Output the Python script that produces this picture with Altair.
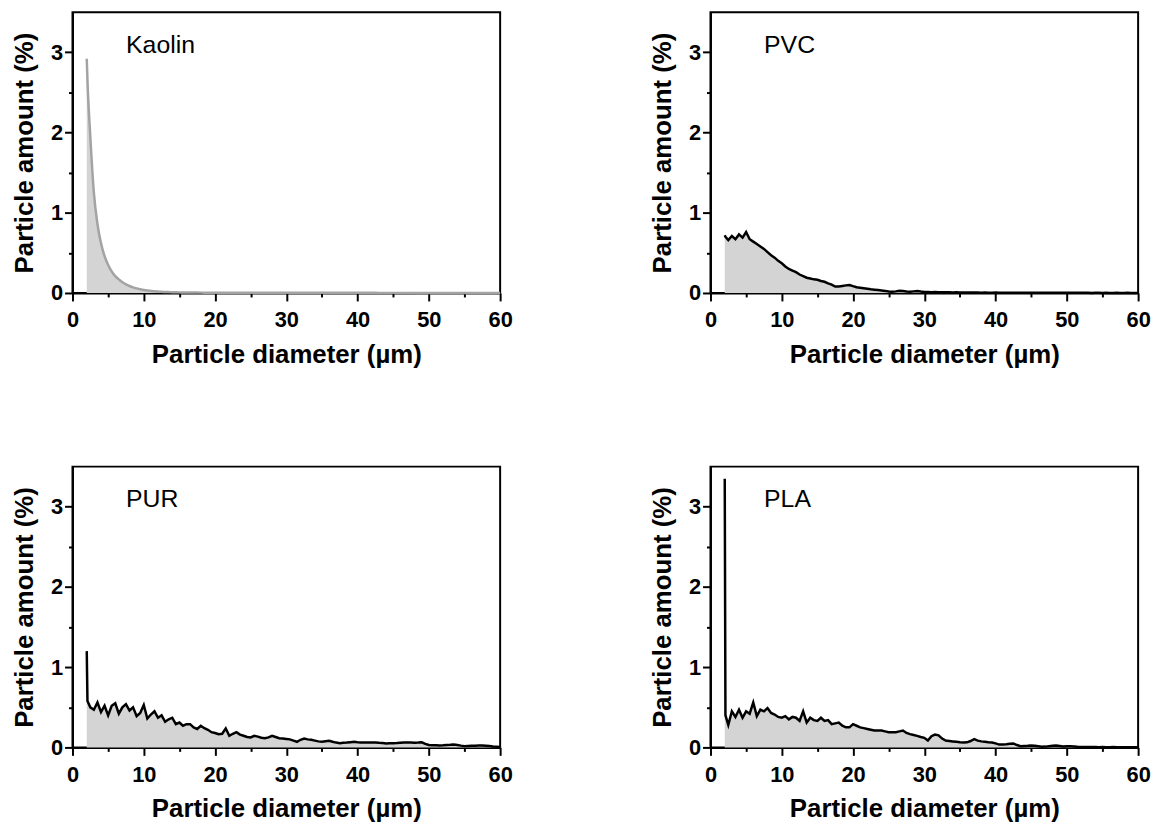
import altair as alt
import pandas as pd

# particle diameter grid (µm)
DIAMETER = [2.0, 2.1] + [round(2.5 + 0.5 * i, 1) for i in range(116)]

KAOLIN = [2.92, 2.65,
          1.95, 1.25, 0.86, 0.62, 0.46, 0.35, 0.27, 0.21, 0.17, 0.135,
          0.108, 0.087, 0.07, 0.057, 0.047, 0.038, 0.031, 0.026, 0.021, 0.018,
          0.015, 0.013, 0.011, 0.0095, 0.0085, 0.0075, 0.0068, 0.0062, 0.0057, 0.0052,
          0.0048, 0.0045, 0.0042, 0.004, 0.0038, 0.0036, 0.0034, 0.0032, 0.0031, 0.003,
          0.0029, 0.0028, 0.0028, 0.0027, 0.0026, 0.0026, 0.0025, 0.0025, 0.0024, 0.0024,
          0.0023, 0.0023, 0.0022, 0.0022, 0.0022, 0.0021, 0.0021, 0.0021, 0.002, 0.002,
          0.002, 0.0019, 0.0019, 0.0019, 0.0018, 0.0018, 0.0018, 0.0018, 0.0017, 0.0017,
          0.0017, 0.0017, 0.0016, 0.0016, 0.0016, 0.0016, 0.0015, 0.0015, 0.0015, 0.0015,
          0.0015, 0.0014, 0.0014, 0.0014, 0.0014, 0.0014, 0.0013, 0.0013, 0.0013, 0.0013,
          0.0013, 0.0013, 0.0012, 0.0012, 0.0012, 0.0012, 0.0012, 0.0012, 0.0011, 0.0011,
          0.0011, 0.0011, 0.0011, 0.0011, 0.0011, 0.001, 0.001, 0.001, 0.001, 0.001,
          0.001, 0.001, 0.001, 0.001, 0.001, 0.001]

PVC = [0.72, 0.70,
       0.66, 0.71, 0.67, 0.73, 0.69, 0.76, 0.67, 0.64, 0.61, 0.58,
       0.55, 0.51, 0.47, 0.44, 0.40, 0.37, 0.33, 0.30, 0.28, 0.26,
       0.23, 0.21, 0.19, 0.18, 0.17, 0.165, 0.15, 0.14, 0.12, 0.105,
       0.08, 0.08, 0.087, 0.095, 0.10, 0.085, 0.072, 0.065, 0.058, 0.052,
       0.046, 0.041, 0.036, 0.031, 0.026, 0.018, 0.016, 0.02, 0.028, 0.025,
       0.018, 0.015, 0.02, 0.025, 0.018, 0.013, 0.012, 0.01, 0.013, 0.01,
       0.009, 0.008, 0.009, 0.007, 0.008, 0.006, 0.006, 0.005, 0.006, 0.005,
       0.005, 0.004, 0.005, 0.004, 0.004, 0.005, 0.004, 0.004, 0.003, 0.004,
       0.003, 0.004, 0.003, 0.003, 0.004, 0.003, 0.003, 0.003, 0.002, 0.003,
       0.003, 0.002, 0.003, 0.002, 0.003, 0.002, 0.002, 0.003, 0.002, 0.002,
       0.002, 0.002, 0.001, 0.002, 0.002, 0.001, 0.002, 0.001, 0.001, 0.002,
       0.001, 0.001, 0.002, 0.001, 0.001, 0.001]

PUR = [1.2, 0.58,
       0.50, 0.47, 0.56, 0.44, 0.52, 0.40, 0.52, 0.55, 0.42, 0.50,
       0.54, 0.46, 0.50, 0.39, 0.43, 0.53, 0.36, 0.41, 0.45, 0.37,
       0.40, 0.32, 0.35, 0.37, 0.29, 0.31, 0.27, 0.29, 0.29, 0.25,
       0.23, 0.27, 0.24, 0.22, 0.19, 0.18, 0.165, 0.17, 0.235, 0.145,
       0.17, 0.19, 0.16, 0.145, 0.13, 0.125, 0.145, 0.135, 0.12, 0.115,
       0.125, 0.145, 0.13, 0.115, 0.11, 0.105, 0.10, 0.085, 0.07, 0.095,
       0.11, 0.10, 0.095, 0.085, 0.075, 0.07, 0.078, 0.082, 0.07, 0.06,
       0.053, 0.058, 0.06, 0.065, 0.07, 0.065, 0.062, 0.06, 0.062, 0.06,
       0.062, 0.058, 0.055, 0.05, 0.052, 0.053, 0.055, 0.058, 0.06, 0.062,
       0.06, 0.058, 0.06, 0.064, 0.045, 0.03, 0.028, 0.026, 0.024, 0.026,
       0.03, 0.032, 0.035, 0.03, 0.022, 0.016, 0.018, 0.02, 0.022, 0.024,
       0.024, 0.022, 0.018, 0.012, 0.008, 0.004]

PLA = [3.35, 0.40,
       0.28, 0.45, 0.38, 0.47, 0.37, 0.45, 0.42, 0.56, 0.39, 0.47,
       0.45, 0.49, 0.43, 0.41, 0.38, 0.37, 0.39, 0.35, 0.38, 0.37,
       0.33, 0.45, 0.31, 0.37, 0.34, 0.33, 0.37, 0.33, 0.34, 0.29,
       0.30, 0.31, 0.27, 0.25, 0.25, 0.29, 0.27, 0.25, 0.24, 0.23,
       0.22, 0.21, 0.21, 0.21, 0.20, 0.19, 0.19, 0.19, 0.20, 0.21,
       0.18, 0.165, 0.155, 0.144, 0.13, 0.12, 0.085, 0.14, 0.16, 0.15,
       0.11, 0.085, 0.08, 0.075, 0.07, 0.065, 0.062, 0.063, 0.08, 0.103,
       0.085, 0.075, 0.07, 0.065, 0.062, 0.05, 0.035, 0.037, 0.04, 0.045,
       0.05, 0.03, 0.016, 0.018, 0.02, 0.024, 0.02, 0.014, 0.008, 0.01,
       0.015, 0.02, 0.024, 0.018, 0.012, 0.014, 0.016, 0.012, 0.008, 0.006,
       0.005, 0.004, 0.005, 0.004, 0.003, 0.004, 0.003, 0.003, 0.004, 0.003,
       0.003, 0.003, 0.002, 0.003, 0.002, 0.002]

for _s in (KAOLIN, PVC, PUR, PLA):
    assert len(_s) == len(DIAMETER), len(_s)

X_MAJOR = [0, 10, 20, 30, 40, 50, 60]
X_MINOR = [5, 15, 25, 35, 45, 55]
Y_MAJOR = [0, 1, 2, 3]
Y_MINOR = [0.5, 1.5, 2.5]

FILL = "#d4d4d4"
W, H = 431, 283


def panel(name, values, line_color, interp, line_width):
    df = pd.DataFrame({"diameter": DIAMETER, "amount": values})
    xs = alt.Scale(domain=[0, 60], nice=False, zero=False)
    ys = alt.Scale(domain=[0, 3.5], nice=False)
    x_major = alt.Axis(values=X_MAJOR, title="Particle diameter (µm)", tickSize=8,
                       labelPadding=9, titlePadding=11, labelFlush=False,
                       labelOverlap=False, format="d", grid=False)
    x_minor = alt.Axis(values=X_MINOR, labels=False, domain=False, tickSize=4,
                       title=None, orient="bottom", grid=False)
    y_major = alt.Axis(values=Y_MAJOR, title="Particle amount (%)", tickSize=8,
                       labelPadding=2, titlePadding=13, labelFlush=False,
                       labelOverlap=False, format="d", grid=False)
    y_minor = alt.Axis(values=Y_MINOR, labels=False, domain=False, tickSize=4,
                       title=None, orient="left", grid=False)
    area = alt.Chart(df).mark_area(color=FILL, opacity=1, interpolate=interp).encode(
        x=alt.X("diameter:Q", scale=xs, axis=x_major),
        y=alt.Y("amount:Q", scale=ys, axis=y_major),
    )
    line = alt.Chart(df).mark_line(color=line_color, strokeWidth=line_width,
                                   interpolate=interp).encode(
        x=alt.X("diameter:Q", scale=xs, axis=x_minor),
        y=alt.Y("amount:Q", scale=ys, axis=y_minor),
    )
    label = alt.Chart(pd.DataFrame({"name": [name]})).mark_text(
        align="left", baseline="alphabetic", font="Liberation Sans",
        fontSize=25, color="black"
    ).encode(x=alt.value(54), y=alt.value(41), text="name:N")
    return alt.layer(area, line, label).resolve_axis(
        x="independent", y="independent").properties(width=W, height=H)


p1 = panel("Kaolin", KAOLIN, "#a3a3a3", "monotone", 2.5)
p2 = panel("PVC", PVC, "black", "linear", 2.5)
p3 = panel("PUR", PUR, "black", "linear", 2.5)
p4 = panel("PLA", PLA, "black", "linear", 2.5)

chart = alt.vconcat(
    alt.hconcat(p1, p2, spacing=135),
    alt.hconcat(p3, p4, spacing=135),
    spacing=98,
).properties(
    padding={"left": 2, "top": 0, "right": 2, "bottom": 2}
).configure_view(
    stroke="black", strokeWidth=2
).configure_axis(
    domainColor="black", domainWidth=2, tickColor="black", tickWidth=2,
    labelColor="black", titleColor="black",
    labelFont="Liberation Sans", titleFont="Liberation Sans",
    labelFontSize=22, labelFontWeight="bold",
    titleFontSize=26, titleFontWeight="bold",
)

chart.save("out.html", embed_options={"renderer": "svg", "actions": False})
